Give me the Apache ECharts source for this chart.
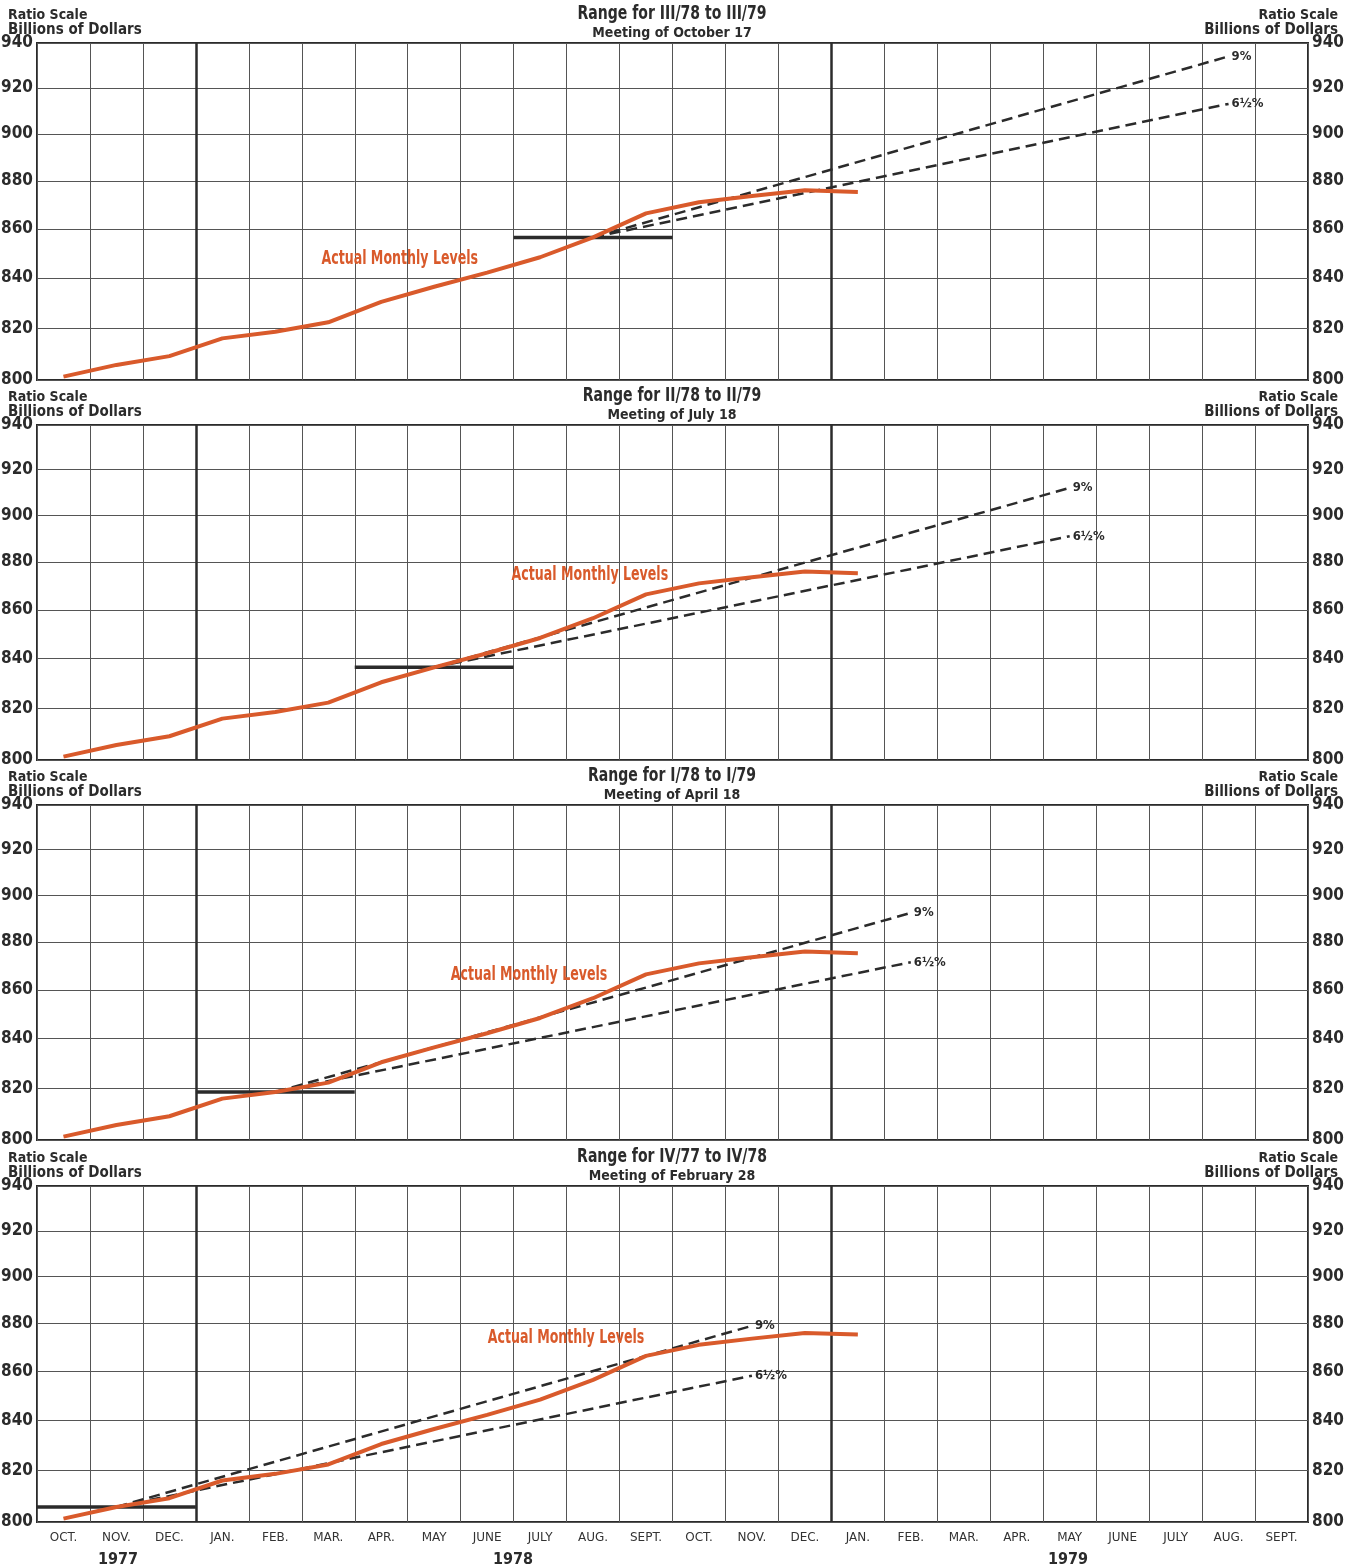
<!DOCTYPE html>
<html><head><meta charset="utf-8">
<script src="https://cdn.jsdelivr.net/npm/echarts@6/dist/echarts.min.js"></script>
<style>html,body{margin:0;padding:0;background:#fff}#c{width:1353px;height:1568px}</style>
</head><body><div id="c"></div>
<script>
// ---- data ----
const months = ['OCT.','NOV.','DEC.','JAN.','FEB.','MAR.','APR.','MAY','JUNE','JULY','AUG.','SEPT.',
                'OCT.','NOV.','DEC.','JAN.','FEB.','MAR.','APR.','MAY','JUNE','JULY','AUG.','SEPT.'];
const years = ['1977','1978','1979'];
const yTicks = [800,820,840,860,880,900,920,940];
// actual monthly levels, Oct 1977 .. Jan 1979
const actual = [801.3,805.8,809.2,816.1,818.7,822.4,830.5,836.5,842.2,848.4,856.5,866.4,871.0,873.6,876.0,875.3];
const panelTitles = ['Range for III/78 to III/79','Range for II/78 to II/79','Range for I/78 to I/79','Range for IV/77 to IV/78'];
const meetings = ['Meeting of October 17','Meeting of July 18','Meeting of April 18','Meeting of February 28'];
const baseLevel = [856.5, 836.5, 818.7, 805.8];     // base quarter average
const baseQuarterStart = [9, 6, 3, 0];              // month index where base quarter begins
const rangeStart = [10, 7, 4, 1];                   // mid-month of base quarter
const rangeEnd = [22, 19, 16, 13];                  // same month one year later
const upper9 = [934, 912, 892.4, 879];
const lower65 = [913, 891, 871.5, 858.2];
const labelPos = [[6.85, 847.7],[10.44, 874.5],[9.29, 866.1],[9.99, 873.9]];

// ---- layout ----
const tops = [43, 425, 805, 1186];
const heights = [337, 335, 335, 336];
const FONT = "'DejaVu Sans Condensed',sans-serif";
const ORANGE = '#d95a2b';
const INK = '#2b2b2b';

const grids = [], xAxes = [], yAxes = [], series = [], graphics = [];
for (let i = 0; i < 4; i++) {
  grids.push({left: 37, width: 1271, top: tops[i], height: heights[i], show: true,
              borderColor: INK, borderWidth: 2, containLabel: false, outerBoundsMode: 'none'});
  xAxes.push({gridIndex: i, type: 'value', min: 0, max: 24, interval: 1,
    axisLine: {show: false}, axisTick: {show: false}, axisLabel: {show: false},
    splitLine: {show: true, lineStyle: {color: '#555', width: 1}}});
  xAxes.push({gridIndex: i, type: 'category', data: months.map((m, k) => k), boundaryGap: true,
    position: 'bottom',
    axisLine: {show: false}, axisTick: {show: false}, splitLine: {show: false},
    axisLabel: {show: i === 3, interval: 0, formatter: v => months[+v], color: '#333',
                fontFamily: "'DejaVu Sans',sans-serif", fontSize: 12, margin: 10}});
  const yBase = {gridIndex: i, type: 'log', logBase: 10, min: 800, max: 940,
    axisLine: {show: false},
    axisTick: {show: false, customValues: yTicks},
    axisLabel: {customValues: yTicks, color: INK, fontFamily: FONT, fontWeight: 'bold', fontSize: 17, margin: 4}};
  yAxes.push(Object.assign({}, yBase, {position: 'left',
    splitLine: {show: true, lineStyle: {color: '#555', width: 1}}}));
  yAxes.push(Object.assign({}, yBase, {position: 'right', splitLine: {show: false}}));

  series.push({type: 'line', xAxisIndex: 2*i+1, yAxisIndex: 2*i, data: actual,
    symbol: 'none', lineStyle: {color: ORANGE, width: 4}, z: 5, silent: true});
  series.push({type: 'line', xAxisIndex: 2*i+1, yAxisIndex: 2*i,
    data: [[rangeStart[i], baseLevel[i]], [rangeEnd[i], upper9[i]]],
    symbol: 'none', lineStyle: {color: INK, width: 2.5, type: [11, 6]}, z: 4, silent: true,
    endLabel: {show: true, formatter: '9%', color: INK, fontFamily: FONT, fontWeight: 'bold', fontSize: 13, distance: 3}});
  series.push({type: 'line', xAxisIndex: 2*i+1, yAxisIndex: 2*i,
    data: [[rangeStart[i], baseLevel[i]], [rangeEnd[i], lower65[i]]],
    symbol: 'none', lineStyle: {color: INK, width: 2.5, type: [11, 6]}, z: 4, silent: true,
    endLabel: {show: true, formatter: '6½%', color: INK, fontFamily: FONT, fontWeight: 'bold', fontSize: 13, distance: 3}});
  series.push({type: 'line', xAxisIndex: 2*i, yAxisIndex: 2*i,
    data: [[baseQuarterStart[i], baseLevel[i]], [baseQuarterStart[i] + 3, baseLevel[i]]],
    symbol: 'none', lineStyle: {color: INK, width: 3.5}, z: 3, silent: true,
    markLine: {symbol: 'none', silent: true, label: {show: false},
      lineStyle: {color: INK, width: 2.5, type: 'solid'},
      data: [{xAxis: 3}, {xAxis: 15}]}});

  // texts above panel
  const t = tops[i];
  graphics.push({type: 'text', x: 672, y: t - 29, scaleX: 0.78, style: {text: panelTitles[i], fill: INK,
    font: "bold 20px " + FONT, align: 'center', verticalAlign: 'middle'}});
  graphics.push({type: 'text', x: 672, y: t - 10, style: {text: meetings[i], fill: INK,
    font: "bold 14px " + FONT, align: 'center', verticalAlign: 'middle'}});
  graphics.push({type: 'text', x: 8, y: t - 28, style: {text: 'Ratio Scale', fill: INK,
    font: "bold 14px " + FONT, align: 'left', verticalAlign: 'middle'}});
  graphics.push({type: 'text', x: 8, y: t - 13, style: {text: 'Billions of Dollars', fill: INK,
    font: "bold 15px " + FONT, align: 'left', verticalAlign: 'middle'}});
  graphics.push({type: 'text', x: 1338, y: t - 28, style: {text: 'Ratio Scale', fill: INK,
    font: "bold 14px " + FONT, align: 'right', verticalAlign: 'middle'}});
  graphics.push({type: 'text', x: 1338, y: t - 13, style: {text: 'Billions of Dollars', fill: INK,
    font: "bold 15px " + FONT, align: 'right', verticalAlign: 'middle'}});
}
const yearX = [118, 513, 1068];
years.forEach((y, k) => graphics.push({type: 'text', x: yearX[k], y: 1560, style: {text: y, fill: INK,
  font: "bold 16px " + FONT, align: 'center', verticalAlign: 'middle'}}));

const chart = echarts.init(document.getElementById('c'), null, {renderer: 'canvas'});
chart.setOption({animation: false, backgroundColor: '#fff', grid: grids, xAxis: xAxes, yAxis: yAxes,
  series: series});
// "Actual Monthly Levels" annotation placed in data coordinates
for (let i = 0; i < 4; i++) {
  const p = chart.convertToPixel({seriesIndex: 4*i+3}, labelPos[i]);
  graphics.push({type: 'text', x: p[0], y: p[1], scaleX: 0.7, z: 10, style: {text: 'Actual Monthly Levels',
    fill: ORANGE, font: "bold 20px " + FONT, align: 'center', verticalAlign: 'middle'}});
}
chart.setOption({graphic: graphics});
</script></body></html>
